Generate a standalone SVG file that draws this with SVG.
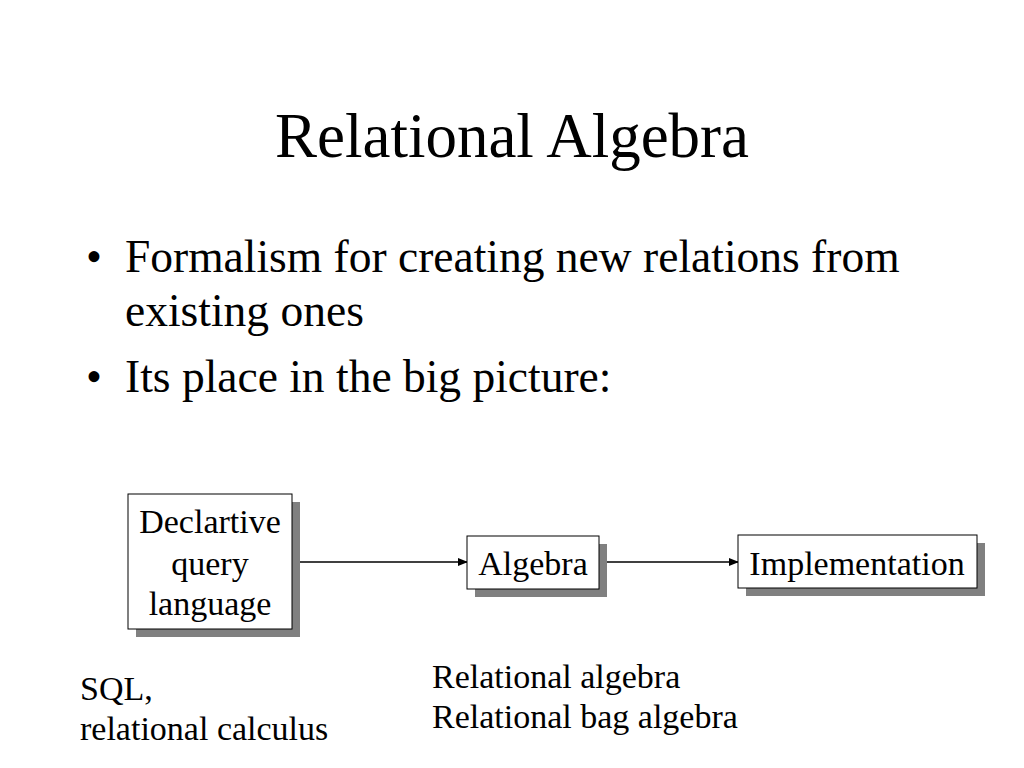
<svg xmlns="http://www.w3.org/2000/svg" width="1024" height="768" viewBox="0 0 1024 768">
<style>
text{font-family:"Liberation Serif","Times New Roman",serif;fill:#000}
.t{font-size:63px}
.b{font-size:45.5px}
.n{font-size:34px}
.box{fill:#fff;stroke:#000;stroke-width:1}
.sh{fill:#808080}
.ln{stroke:#000;stroke-width:1.5;fill:none}
</style>
<defs>
<marker id="ah" markerWidth="10" markerHeight="8" refX="9" refY="4" orient="auto" markerUnits="userSpaceOnUse">
<path d="M0,0 L10,4 L0,8 z" fill="#000"/>
</marker>
</defs>
<rect width="1024" height="768" fill="#fff"/>
<text class="t" x="512" y="157" text-anchor="middle">Relational Algebra</text>
<text class="b" x="86" y="272">•</text>
<text class="b" x="125" y="272">Formalism for creating new relations from</text>
<text class="b" x="125" y="326">existing ones</text>
<text class="b" x="86" y="392">•</text>
<text class="b" x="125" y="392">Its place in the big picture:</text>
<g id="connectors">
<line class="ln" x1="292" y1="562" x2="467" y2="562" marker-end="url(#ah)"/>
<line class="ln" x1="599" y1="562" x2="738" y2="562" marker-end="url(#ah)"/>
</g>
<g id="decl">
<rect class="sh" x="136" y="502" width="164" height="135"/>
<rect class="box" x="128" y="494" width="164" height="135"/>
<text class="n" x="210" y="533" text-anchor="middle">Declartive</text>
<text class="n" x="210" y="575" text-anchor="middle">query</text>
<text class="n" x="210" y="615" text-anchor="middle">language</text>
</g>
<g id="algebra">
<rect class="sh" x="475" y="544" width="132" height="53"/>
<rect class="box" x="467" y="536" width="132" height="53"/>
<text class="n" x="533" y="575" text-anchor="middle">Algebra</text>
</g>
<g id="impl">
<rect class="sh" x="746" y="543" width="239" height="53"/>
<rect class="box" x="738" y="535" width="239" height="53"/>
<text class="n" x="857" y="575" text-anchor="middle">Implementation</text>
</g>
<text class="n" x="80" y="700">SQL,</text>
<text class="n" x="80" y="740">relational calculus</text>
<text class="n" x="432" y="688">Relational algebra</text>
<text class="n" x="432" y="728">Relational bag algebra</text>
</svg>
